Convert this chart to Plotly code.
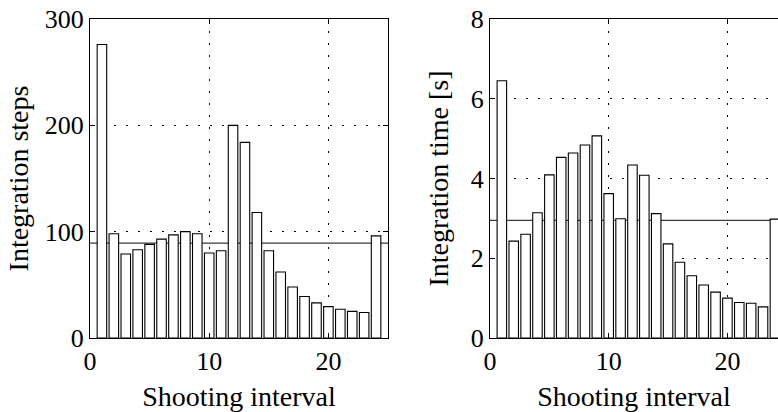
import numpy as np
import plotly.graph_objects as go

intervals = list(range(1, 25))
steps = [276, 98, 79, 83, 88, 93, 97, 100, 98, 80, 82, 200,
         184, 118, 82, 62, 48, 39, 33, 29.5, 27, 25, 24, 96]
times = [6.45, 2.43, 2.60, 3.14, 4.09, 4.53, 4.64, 4.84, 5.07, 3.62, 2.99, 4.34,
         4.08, 3.12, 2.36, 1.90, 1.56, 1.33, 1.15, 1.00, 0.89, 0.87, 0.78, 2.98]

x_ticks = [0, 10, 20]
steps_ticks = [0, 100, 200, 300]
time_ticks = [0, 2, 4, 6, 8]

FONT = "Liberation Serif"
TICK_FS = 26
TITLE_FS = 28
GRID_DASH = "2px,10px"

fig = go.Figure()

bar_style = dict(marker=dict(color="white", line=dict(color="black", width=1.1)),
                 width=0.8, showlegend=False, hoverinfo="x+y")
fig.add_trace(go.Bar(x=intervals, y=steps, xaxis="x", yaxis="y", **bar_style))
fig.add_trace(go.Bar(x=intervals, y=times, xaxis="x2", yaxis="y2", **bar_style))

# mean lines, drawn under the bars
fig.add_shape(type="line", xref="x", yref="y", x0=0, x1=25,
              y0=float(np.mean(steps)), y1=float(np.mean(steps)),
              line=dict(color="#3a3a3a", width=1.3), layer="between")
fig.add_shape(type="line", xref="x2", yref="y2", x0=0, x1=25,
              y0=float(np.mean(times)), y1=float(np.mean(times)),
              line=dict(color="#3a3a3a", width=1.3), layer="between")

axis_common = dict(showline=True, linecolor="black", linewidth=1,
                   ticks="inside", ticklen=5, tickcolor="black",
                   showgrid=True, gridcolor="black", gridwidth=1,
                   griddash=GRID_DASH, zeroline=False, automargin=False,
                   tickfont=dict(family=FONT, size=TICK_FS, color="black"))

def title(text, standoff):
    return dict(text=text, standoff=standoff,
                font=dict(family=FONT, size=TITLE_FS, color="black"))

fig.update_layout(
    width=778, height=412,
    margin=dict(l=0, r=0, t=0, b=0),
    paper_bgcolor="white", plot_bgcolor="white",
    font=dict(family=FONT, size=TICK_FS, color="black"),
    bargap=0.2,
    xaxis=dict(domain=[0.1157, 0.4987], range=[0, 25], tickvals=x_ticks,
               mirror="ticks", anchor="y",
               title=title("Shooting interval", 11), **axis_common),
    yaxis=dict(domain=[0.1796, 0.9539], range=[0, 300], tickvals=steps_ticks,
               mirror="ticks", anchor="x",
               title=title("Integration steps", 7), **axis_common),
    xaxis2=dict(domain=[0.6298, 1.0], range=[0, 24.26], tickvals=x_ticks,
                mirror="ticks", anchor="y2",
                title=title("Shooting interval", 11), **axis_common),
    yaxis2=dict(domain=[0.1796, 0.9539], range=[0, 8], tickvals=time_ticks,
                mirror=False, anchor="x2",
                title=title("Integration time [s]", 13), **axis_common),
)

fig.write_html("out.html")
